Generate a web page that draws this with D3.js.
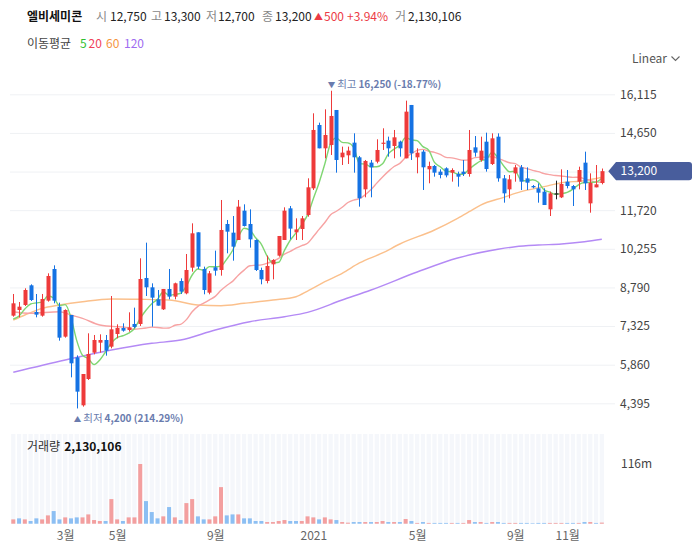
<!DOCTYPE html>
<html><head><meta charset="utf-8">
<script src="https://cdn.jsdelivr.net/npm/d3@7"></script>
<style>
body{margin:0;background:#fff;}
svg{display:block;font-family:"Noto Sans CJK KR","Noto Sans",sans-serif;}
</style></head><body>
<svg id="c" width="698" height="555"></svg>
<script>
const stockName = "엘비세미콘";
const dates = ["2019-12-30",
"2020-01-06","2020-01-13","2020-01-20","2020-01-27","2020-02-03","2020-02-10","2020-02-17","2020-02-24",
"2020-03-02","2020-03-09","2020-03-16","2020-03-23","2020-03-30","2020-04-06","2020-04-13","2020-04-20","2020-04-27",
"2020-05-04","2020-05-11","2020-05-18","2020-05-25","2020-06-01","2020-06-08","2020-06-15","2020-06-22","2020-06-29",
"2020-07-06","2020-07-13","2020-07-20","2020-07-27","2020-08-03","2020-08-10","2020-08-17","2020-08-24","2020-08-31",
"2020-09-07","2020-09-14","2020-09-21","2020-09-28","2020-10-05","2020-10-12","2020-10-19","2020-10-26",
"2020-11-02","2020-11-09","2020-11-16","2020-11-23","2020-11-30","2020-12-07","2020-12-14","2020-12-21","2020-12-28",
"2021-01-04","2021-01-11","2021-01-18","2021-01-25","2021-02-01","2021-02-08","2021-02-15","2021-02-22",
"2021-03-01","2021-03-08","2021-03-15","2021-03-22","2021-03-29","2021-04-05","2021-04-12","2021-04-19","2021-04-26",
"2021-05-03","2021-05-10","2021-05-17","2021-05-24","2021-05-31","2021-06-07","2021-06-14","2021-06-21","2021-06-28",
"2021-07-05","2021-07-12","2021-07-19","2021-07-26","2021-08-02","2021-08-09","2021-08-16","2021-08-23","2021-08-30",
"2021-09-06","2021-09-13","2021-09-20","2021-09-27","2021-10-04","2021-10-11","2021-10-18","2021-10-25",
"2021-11-01","2021-11-08","2021-11-15","2021-11-22","2021-11-29","2021-12-06","2021-12-13"];

const opens = [7719,7934,8124,8870,7858,7719,8288,9489,8060,6923,
7744,6139,4318,5317,6316,6695,6796,6543,7024,7251,
7175,7403,7403,9148,8794,8339,7959,8731,8440,9034,
8566,9540,10880,9489,8592,9553,9451,11196,10867,10589,
11702,11196,10589,9451,9034,9666,9995,10589,11790,10880,
11006,11537,12549,14951,14066,14193,15520,13725,13801,14281,
13725,12511,13523,13560,14240,14357,14155,14319,13687,15710,
13725,13940,13270,13396,13181,13308,13143,13092,13181,13092,
14103,13623,14318,13471,14508,12927,12510,13117,13345,12927,
12637,12548,12422,11752,12359,12207,12801,12637,12801,13522,
11979,12586,12750];
const highs = [8541,8237,8756,8907,8541,8541,9325,9628,8212,7959,
7744,6214,5506,7049,6986,7011,6986,8465,7390,7428,
7846,8023,9894,10488,8945,8693,8731,9489,8971,9135,
10058,11221,10880,9578,9414,10185,12106,11348,11499,12106,
11942,11752,10614,9540,9995,9860,10741,11828,11879,11411,
11499,12928,15394,15040,15545,16250,15520,14130,14130,14635,
13776,13624,13624,14408,14825,14509,14762,14357,15874,15710,
14066,14003,13560,13434,13270,13346,13308,13181,13623,14761,
14533,14508,14660,14634,14634,13054,13054,13433,13433,13345,
12675,12738,12548,12422,12839,13269,13244,12675,13370,13939,
13117,13433,13300];
const lows = [7681,7656,8086,8275,7656,7681,8250,8187,6771,6885,
5380,4200,4268,5279,6252,6316,6202,6480,6859,7112,
7112,7239,7327,8465,7302,8099,7934,8339,8339,8541,
8529,9388,9489,8529,8529,9236,9236,10084,9805,10589,
11100,10299,9413,8908,8946,9097,9957,10589,10614,10589,
10589,11474,12486,14066,13687,13813,13143,13434,13472,13143,
11854,12208,12208,13497,14003,13750,13687,13750,13687,13624,
13118,12486,12739,12991,12928,12966,12802,12612,13016,12991,
13750,13560,13181,13433,12801,12005,12169,12801,12485,12485,
12548,12005,11916,11499,12131,12180,12548,11878,12510,12485,
11625,12586,12700];
const closes = [8187,8060,8693,8313,7757,8351,9224,8288,6885,7934,
5911,4837,5506,6265,6796,6796,6391,7201,7251,7150,
7277,7290,9110,8794,8402,8099,8731,8440,8946,8630,
9451,10842,9578,8693,9325,9426,10969,10905,10336,11854,
11120,10614,9451,9097,9603,9831,10741,11702,11020,10990,
11411,12587,14762,14066,14572,15293,13624,13902,13978,13725,
12170,13586,13346,14003,14280,14066,14483,14066,15457,13876,
13900,13346,13396,13143,13055,13040,13244,12991,13092,14003,
13901,13977,13281,14445,12927,12359,12889,13345,12801,12763,
12586,12384,11916,12359,12359,12713,12637,12511,13244,12738,
12760,12700,13200];
const volumes = [8400000,10400000,8400000,5200000,10400000,8400000,16200000,24600000,8400000,12300000,
10400000,12300000,12300000,18100000,7100000,5200000,5200000,47900000,8400000,5200000,
12300000,12300000,116200000,44000000,22700000,10400000,14300000,32400000,12300000,7100000,
40100000,47900000,14300000,8400000,8400000,14300000,71200000,16200000,18100000,18100000,
10400000,10400000,5200000,5200000,3200000,3200000,5200000,7100000,5200000,5200000,
5200000,14300000,12300000,8400000,12300000,8400000,7100000,3200000,2000000,3200000,
3200000,3200000,3200000,3200000,5200000,3200000,3200000,3200000,9100000,5200000,
1500000,3200000,1500000,1500000,1500000,1500000,1500000,1500000,1500000,7100000,
3200000,3200000,1500000,3200000,3200000,1500000,1500000,1500000,1500000,1500000,
1000000,1500000,1500000,1500000,1500000,1500000,1500000,1500000,1500000,3200000,
3200000,1500000,2130106];

const ma5Lead = [[0,7592],[1,7706],[2,7972],[3,8161]];
const ma20Lead = [[0,7869],[3,7809],[8,7869],[10,7744],[12,7619],[15,7365],[18,7300]];
const ma60Read = [[0,7554],[2,7744],[5,7998],[8,8123],[12,8249],[17,8351],[22,8340],[27,8313],[32,8123],[36,8097],
[40,8188],[45,8313],[49,8438],[51,8654],[54,9007],[57,9326],[60,9717],[64,10096],[67,10437],[73,10968],
[77,11412],[79,11662],[81,11916],[85,12208],[88,12421],[92,12611],[95,12762],[99,12838],[102,12967]];
const ma120Read = [[0,5571],[9,6037],[17,6417],[24,6671],[29,6796],[35,7175],[41,7490],[47,7680],[51,7846],
[57,8313],[62,8692],[70,9375],[77,9906],[84,10236],[87,10335],[91,10399],[95,10437],[99,10524],[102,10615]];

const priceTicks = [4395,5860,7325,8790,10255,11720,13185,14650,16115];
const tickDates = ["2020-03-02","2020-05-04","2020-08-31","2020-12-28","2021-05-03","2021-08-30","2021-11-01"];
const tickLabels = ["3월","5월","9월","2021","5월","9월","11월"];
const maNames = ["5","20","60","120"];
const maColors = ["#7fd672","#f7a3a3","#fbc08c","#b48af5"];
const maLegendColors = ["#2fbf2f","#f0415a","#f5963f","#a06cf0"];

const FONT = '"Noto Sans CJK KR","Noto Sans",sans-serif';
const UP = "#ee3a3a", DOWN = "#1572e3", FLAT = "#222";
const VUP = "#f39f9f", VDOWN = "#8cbff3";

const svg = d3.select("#c");
const n = dates.length;
const x = d3.scalePoint().domain(dates).range([10.4, 604.7]).padding(0.5);
const step = x.step();
const y = d3.scaleLinear().domain([4395, 16115]).range([403.3, 94.3]);
const volMax = d3.max(volumes);
const yv = d3.scaleLinear().domain([0, volMax]).range([523.7, 464]);

// gridlines
svg.append("g").attr("transform","translate(615,0)")
  .call(d3.axisLeft(y).tickValues(priceTicks).tickSize(605).tickFormat(""))
  .call(g=>g.select(".domain").remove())
  .call(g=>g.selectAll("line").attr("stroke","#eff1f4"));

// volume background stripes
svg.append("g").selectAll("rect").data(dates).join("rect")
  .attr("x", d=>x(d)-step/2+0.75).attr("width", step-1.5)
  .attr("y", 434).attr("height", 90).attr("fill","#f5f7fb");

// volume bars
svg.append("g").selectAll("rect").data(dates).join("rect")
  .attr("x", d=>x(d)-2).attr("width", 4)
  .attr("y", (d,i)=>yv(volumes[i])).attr("height", (d,i)=>yv(0)-yv(volumes[i]))
  .attr("fill", (d,i)=> (i===0 || closes[i]>=closes[i-1]) ? VUP : VDOWN);

// moving averages
const line = d3.line().x(p=>x(dates[p[0]])).y(p=>y(p[1])).curve(d3.curveMonotoneX);
function ma(win, lead){
  const pts = lead.slice();
  for(let i=win-1;i<n;i++) pts.push([i, d3.mean(closes.slice(i-win+1,i+1))]);
  return pts;
}
const maSeries = [ma(5, ma5Lead), ma(20, ma20Lead), ma60Read, ma120Read];
[3,2,1,0].forEach(k=>{
  svg.append("path").attr("d", line(maSeries[k])).attr("fill","none")
    .attr("stroke", maColors[k]).attr("stroke-width",1.4);
});

// candles
const cg = svg.append("g");
const col = i => closes[i]>opens[i] ? UP : closes[i]<opens[i] ? DOWN : FLAT;
cg.selectAll("line").data(dates).join("line")
  .attr("x1", d=>Math.round(x(d))+0.5).attr("x2", d=>Math.round(x(d))+0.5)
  .attr("y1",(d,i)=>y(highs[i])).attr("y2",(d,i)=>y(lows[i]))
  .attr("stroke",(d,i)=>col(i)).attr("stroke-width",1);
cg.selectAll("rect").data(dates).join("rect")
  .attr("x", d=>Math.round(x(d))-1.5).attr("width",4)
  .attr("y",(d,i)=>y(Math.max(opens[i],closes[i])))
  .attr("height",(d,i)=>Math.max(1.2, Math.abs(y(opens[i])-y(closes[i]))))
  .attr("fill",(d,i)=>col(i));

// price axis labels
svg.append("g").attr("transform","translate(614,0)")
  .call(d3.axisRight(y).tickValues(priceTicks).tickSize(0).tickPadding(6).tickFormat(d3.format(",")))
  .call(g=>g.select(".domain").remove())
  .call(g=>g.selectAll("text").attr("fill","#444").attr("font-size",12).attr("font-family",FONT));

// x axis
svg.append("g").attr("transform","translate(0,524)")
  .call(d3.axisBottom(x).tickValues(tickDates).tickSize(0).tickPadding(7).tickFormat((d,i)=>tickLabels[i]))
  .call(g=>g.select(".domain").remove())
  .call(g=>g.selectAll("text").attr("fill","#666").attr("font-size",12).attr("font-family",FONT));

// last price tag
const last = n-1;
const ty = y(closes[last]);
svg.append("path")
  .attr("d", `M608.3,${ty} L616,${ty-9.2} L689,${ty-9.2} Q692,${ty-9.2} 692,${ty-6.2} L692,${ty+6.2} Q692,${ty+9.2} 689,${ty+9.2} L616,${ty+9.2} Z`)
  .attr("fill","#485d9c");
svg.append("text").attr("x",620.5).attr("y",ty).attr("dy","0.35em")
  .attr("fill","#fff").attr("font-size",12).attr("font-family",FONT)
  .text(d3.format(",")(closes[last]));

// max / min annotations
const hiI = d3.maxIndex(highs), loI = d3.minIndex(lows);
const pct = v => ((closes[last]/v-1)*100).toFixed(2)+"%";
const ann = svg.append("g").attr("font-family",FONT).attr("fill","#6a7cae").attr("font-size",10);
const t1 = ann.append("text").attr("x", x(dates[hiI])-3).attr("y", y(highs[hiI])-2.5);
t1.append("tspan").attr("font-size",7.5).text("▼");
t1.append("tspan").attr("dx",2).attr("font-size",10.5).text("최고");
t1.append("tspan").attr("dx",2).attr("font-weight","bold").text(d3.format(",")(highs[hiI])+" ("+pct(highs[hiI])+")");
const t2 = ann.append("text").attr("x", x(dates[loI])-3).attr("y", y(lows[loI])+14);
t2.append("tspan").attr("font-size",7.5).text("▲");
t2.append("tspan").attr("dx",2).attr("font-size",10.5).text("최저");
t2.append("tspan").attr("dx",2).attr("font-weight","bold").text(d3.format(",")(lows[loI])+" ("+pct(lows[loI])+")");

// header
const fmt = d3.format(",");
const hd = svg.append("g").attr("font-family",FONT).attr("font-size",12);
const diff = closes[last]-closes[last-1];
const diffPct = diff/closes[last-1]*100;
const hItems = [
  [27, stockName, "#111", "bold"],
  [96, "시", "#888", "normal"], [110, fmt(opens[last]), "#222", "normal"],
  [151, "고", "#888", "normal"], [164, fmt(highs[last]), "#222", "normal"],
  [206, "저", "#888", "normal"], [218, fmt(lows[last]), "#222", "normal"],
  [262, "종", "#888", "normal"], [275, fmt(closes[last]), "#222", "normal"],
  [395, "거", "#888", "normal"], [408, fmt(volumes[last]), "#222", "normal"]
];
hItems.forEach(h=>hd.append("text").attr("x",h[0]).attr("y",21).attr("fill",h[2]).attr("font-weight",h[3]).text(h[1]));
hd.append("text").attr("x",314).attr("y",20).attr("fill","#ec3b45").attr("font-size",9).text(diff>=0?"▲":"▼");
hd.append("text").attr("x",324).attr("y",21).attr("fill","#ec3b45").text(fmt(Math.abs(diff)));
hd.append("text").attr("x",347).attr("y",21).attr("fill","#ec3b45").text((diff>=0?"+":"")+diffPct.toFixed(2)+"%");

// MA legend
const lg = svg.append("g").attr("font-family",FONT).attr("font-size",12);
lg.append("text").attr("x",27).attr("y",48).attr("fill","#444").text("이동평균");
const lgx = [80,88.5,106,124];
maNames.forEach((m,k)=>lg.append("text").attr("x",lgx[k]).attr("y",48).attr("fill",maLegendColors[k]).text(m));

// Linear selector
svg.append("text").attr("x",632).attr("y",62.5).attr("font-family",FONT).attr("font-size",12).attr("fill","#555").text("Linear");
svg.append("path").attr("d","M671.5,56.5 L675.5,60.5 L679.5,56.5").attr("fill","none").attr("stroke","#666").attr("stroke-width",1.1);

// volume label
const vl = svg.append("text").attr("x",27).attr("y",451).attr("font-family",FONT).attr("font-size",12);
vl.append("tspan").attr("fill","#333").text("거래량");
vl.append("tspan").attr("dx",4).attr("fill","#111").attr("font-weight","bold").text(fmt(volumes[last]));
svg.append("text").attr("x",621).attr("y",yv(volMax)).attr("dy","0.35em").attr("font-family",FONT)
  .attr("font-size",12).attr("fill","#444").text(Math.round(volMax/1e6)+"m");
</script>
</body></html>
